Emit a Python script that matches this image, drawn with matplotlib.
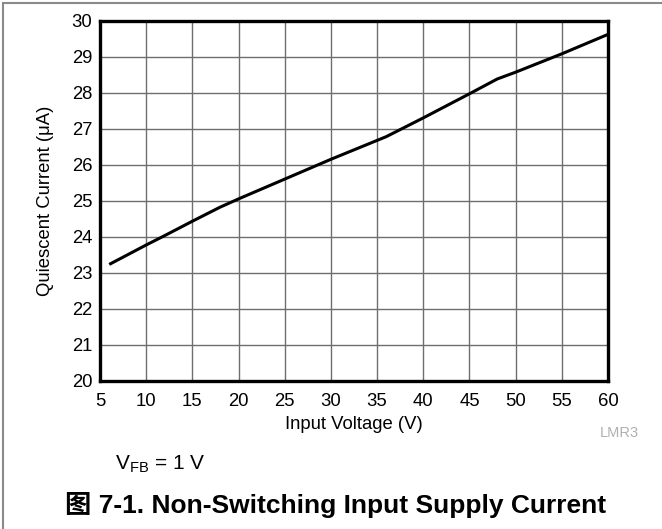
import matplotlib
matplotlib.use('Agg')
import matplotlib.pyplot as plt
from matplotlib.lines import Line2D

# data
vin = [6, 8, 10, 12, 15, 18, 20, 25, 30, 36, 40, 45, 48, 50, 55, 60]
iq = [23.23, 23.5, 23.77, 24.03, 24.43, 24.82, 25.05, 25.6, 26.15, 26.78,
      27.3, 27.97, 28.38, 28.57, 29.08, 29.62]
xticks = list(range(5, 61, 5))
yticks = list(range(20, 31))

plt.rcParams['font.family'] = ['Liberation Sans', 'Noto Sans CJK SC', 'DejaVu Sans']

fig = plt.figure(figsize=(6.62, 5.29), dpi=100)
ax = fig.add_axes([100/662, 1 - 380.7/529, 508/662, 360/529])

ax.plot(vin, iq, color='black', lw=2.2, solid_capstyle='butt')
ax.set_xlim(5, 60)
ax.set_ylim(20, 30)
ax.set_xticks(xticks)
ax.set_yticks(yticks)
ax.grid(True, color='#6e6e6e', lw=1.0)
ax.tick_params(length=0, labelsize=13.3)
ax.tick_params(axis='x', pad=9)
ax.tick_params(axis='y', pad=5.5)
for s in ax.spines.values():
    s.set_linewidth(2.4)
    s.set_color('black')

ax.set_xlabel('Input Voltage (V)', fontsize=13.3)
ax.xaxis.set_label_coords(0.5, -0.097)
ax.set_ylabel('Quiescent Current (\u03bcA)', fontsize=13.3)
ax.yaxis.set_label_coords(-0.09, 0.5)

fig.text(600/662, 1 - 433/529, 'LMR3', fontsize=10.5, color='#b0b0b0', va='center')
fig.text(115/662, 1 - 464/529, r'V$_\mathregular{FB}$ = 1 V', fontsize=15, va='center')
fig.text(65/662, 1 - 505/529, '\u56fe 7-1. Non-Switching Input Supply Current',
         fontsize=19, fontweight='bold', va='center')

# outer frame (top and left edges)
fig.add_artist(Line2D([3/662, 1], [1 - 3/529, 1 - 3/529], color='#8a8a8a', lw=1.5,
                      transform=fig.transFigure))
fig.add_artist(Line2D([3/662, 3/662], [0, 1 - 3/529], color='#8a8a8a', lw=1.5,
                      transform=fig.transFigure))

fig.savefig('out.png', dpi=100)
